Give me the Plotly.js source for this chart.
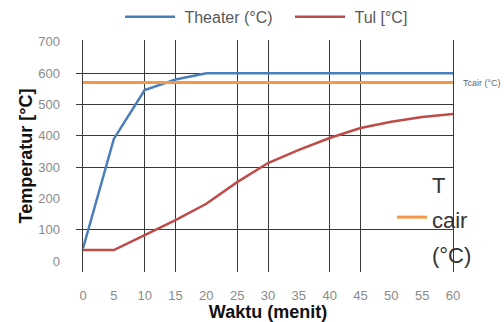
<!DOCTYPE html>
<html>
<head>
<meta charset="utf-8">
<script src="https://cdn.plot.ly/plotly-3.0.1.min.js"></script>
<style>html,body{margin:0;padding:0;background:#fff;}</style>
</head>
<body>
<div id="chart" style="width:504px;height:322px;"></div>
<script>
// Data
const waktu = [0, 5, 10, 15, 20, 25, 30, 35, 40, 45, 50, 55, 60];
const theater = [40, 390, 546, 580, 600, 600, 600, 600, 600, 600, 600, 600, 600];
const tul = [35, 35, 83, 131, 183, 252, 313, 355, 393, 425, 445, 460, 470];
const tcairX = [0, 60];
const tcairY = [570, 570];
const xTickVals = [0, 5, 10, 15, 20, 25, 30, 35, 40, 45, 50, 55, 60];
const xGridVals = [0, 10, 15, 25, 30, 40, 45, 60];
const yTickVals = [0, 100, 200, 300, 400, 500, 600, 700];
const yGridVals = [100, 300, 400, 500, 600];

const FONT = 'Liberation Sans, Arial, sans-serif';
const XR = [0, 60];
const YR = [-35, 706];

const traces = [
  {x: waktu, y: theater, type: 'scatter', mode: 'lines', name: '&nbsp;Theater (°C)',
   line: {color: '#4a7ebb', width: 2.5}, legend: 'legend'},
  {x: waktu, y: tul, type: 'scatter', mode: 'lines', name: '&nbsp;Tul [°C]',
   line: {color: '#be4b48', width: 2.5}, legend: 'legend'},
  {x: tcairX, y: tcairY, type: 'scatter', mode: 'lines',
   name: '<span style="font-size:22px">T</span><br><span style="font-size:22px">cair</span><br><span style="font-size:22px">(°C)</span>',
   line: {color: '#f79646', width: 3}, legend: 'legend2'},
  // invisible carrier so the labelled overlay axes are drawn
  {x: waktu, y: tul, xaxis: 'x2', yaxis: 'y2', type: 'scatter', mode: 'lines',
   opacity: 0, showlegend: false, hoverinfo: 'skip', line: {width: 0}}
];

const layout = {
  width: 504, height: 322,
  margin: {l: 83, r: 51, t: 40, b: 50, pad: 0, autoexpand: false},
  paper_bgcolor: '#fff', plot_bgcolor: '#fff',
  font: {family: FONT},
  showlegend: true,
  xaxis: {
    range: XR, tickmode: 'array', tickvals: xGridVals, showticklabels: false,
    showgrid: true, gridcolor: '#3a3a3a', gridwidth: 1, zeroline: false, showline: false,
    ticks: '', automargin: false
  },
  xaxis2: {
    overlaying: 'x', anchor: 'y2', side: 'bottom', range: XR,
    tickmode: 'array', tickvals: xTickVals, showgrid: false, zeroline: false,
    ticks: '', ticklabelstandoff: 14, automargin: false,
    tickfont: {size: 13, color: '#8a8a8a', family: FONT},
    title: {text: 'Waktu (menit)', font: {size: 18, color: '#111', family: 'Liberation Sans, Arial', weight: 'bold'}, standoff: 0}
  },
  yaxis: {
    range: YR, tickmode: 'array', tickvals: yGridVals, showticklabels: false,
    showgrid: true, gridcolor: '#3a3a3a', gridwidth: 1, zeroline: false,
    showline: true, mirror: true, linecolor: '#3a3a3a', linewidth: 1,
    ticks: 'outside', ticklen: 6, tickcolor: '#3a3a3a', automargin: false
  },
  yaxis2: {
    overlaying: 'y', anchor: 'x2', side: 'left', range: YR,
    tickmode: 'array', tickvals: yTickVals, showgrid: false, zeroline: false,
    ticks: '', ticklabelstandoff: 22, automargin: false,
    tickfont: {size: 13, color: '#8a8a8a', family: FONT},
    title: {text: 'Temperatur [°C]', font: {size: 18, color: '#111', family: 'Liberation Sans, Arial', weight: 'bold'}, standoff: 0}
  },
  legend: {
    orientation: 'h', x: 0.1, y: 1.1, xanchor: 'left', yanchor: 'middle',
    font: {size: 16, color: '#595959', family: FONT}, itemwidth: 50,
    entrywidth: 105,
    bgcolor: 'rgba(0,0,0,0)', borderwidth: 0
  },
  legend2: {
    x: 0.835, y: 0.235, xanchor: 'left', yanchor: 'middle',
    font: {size: 27, color: '#333', family: FONT}, itemwidth: 30,
    bgcolor: 'rgba(0,0,0,0)', borderwidth: 0
  },
  annotations: [{
    xref: 'paper', yref: 'y', x: 1, y: tcairY[0], xanchor: 'left', yanchor: 'middle',
    xshift: 8, showarrow: false, text: 'Tcair (°C)',
    font: {size: 9, color: '#666', family: FONT}
  }]
};

Plotly.newPlot('chart', traces, layout, {displayModeBar: false, staticPlot: true});
</script>
</body>
</html>
